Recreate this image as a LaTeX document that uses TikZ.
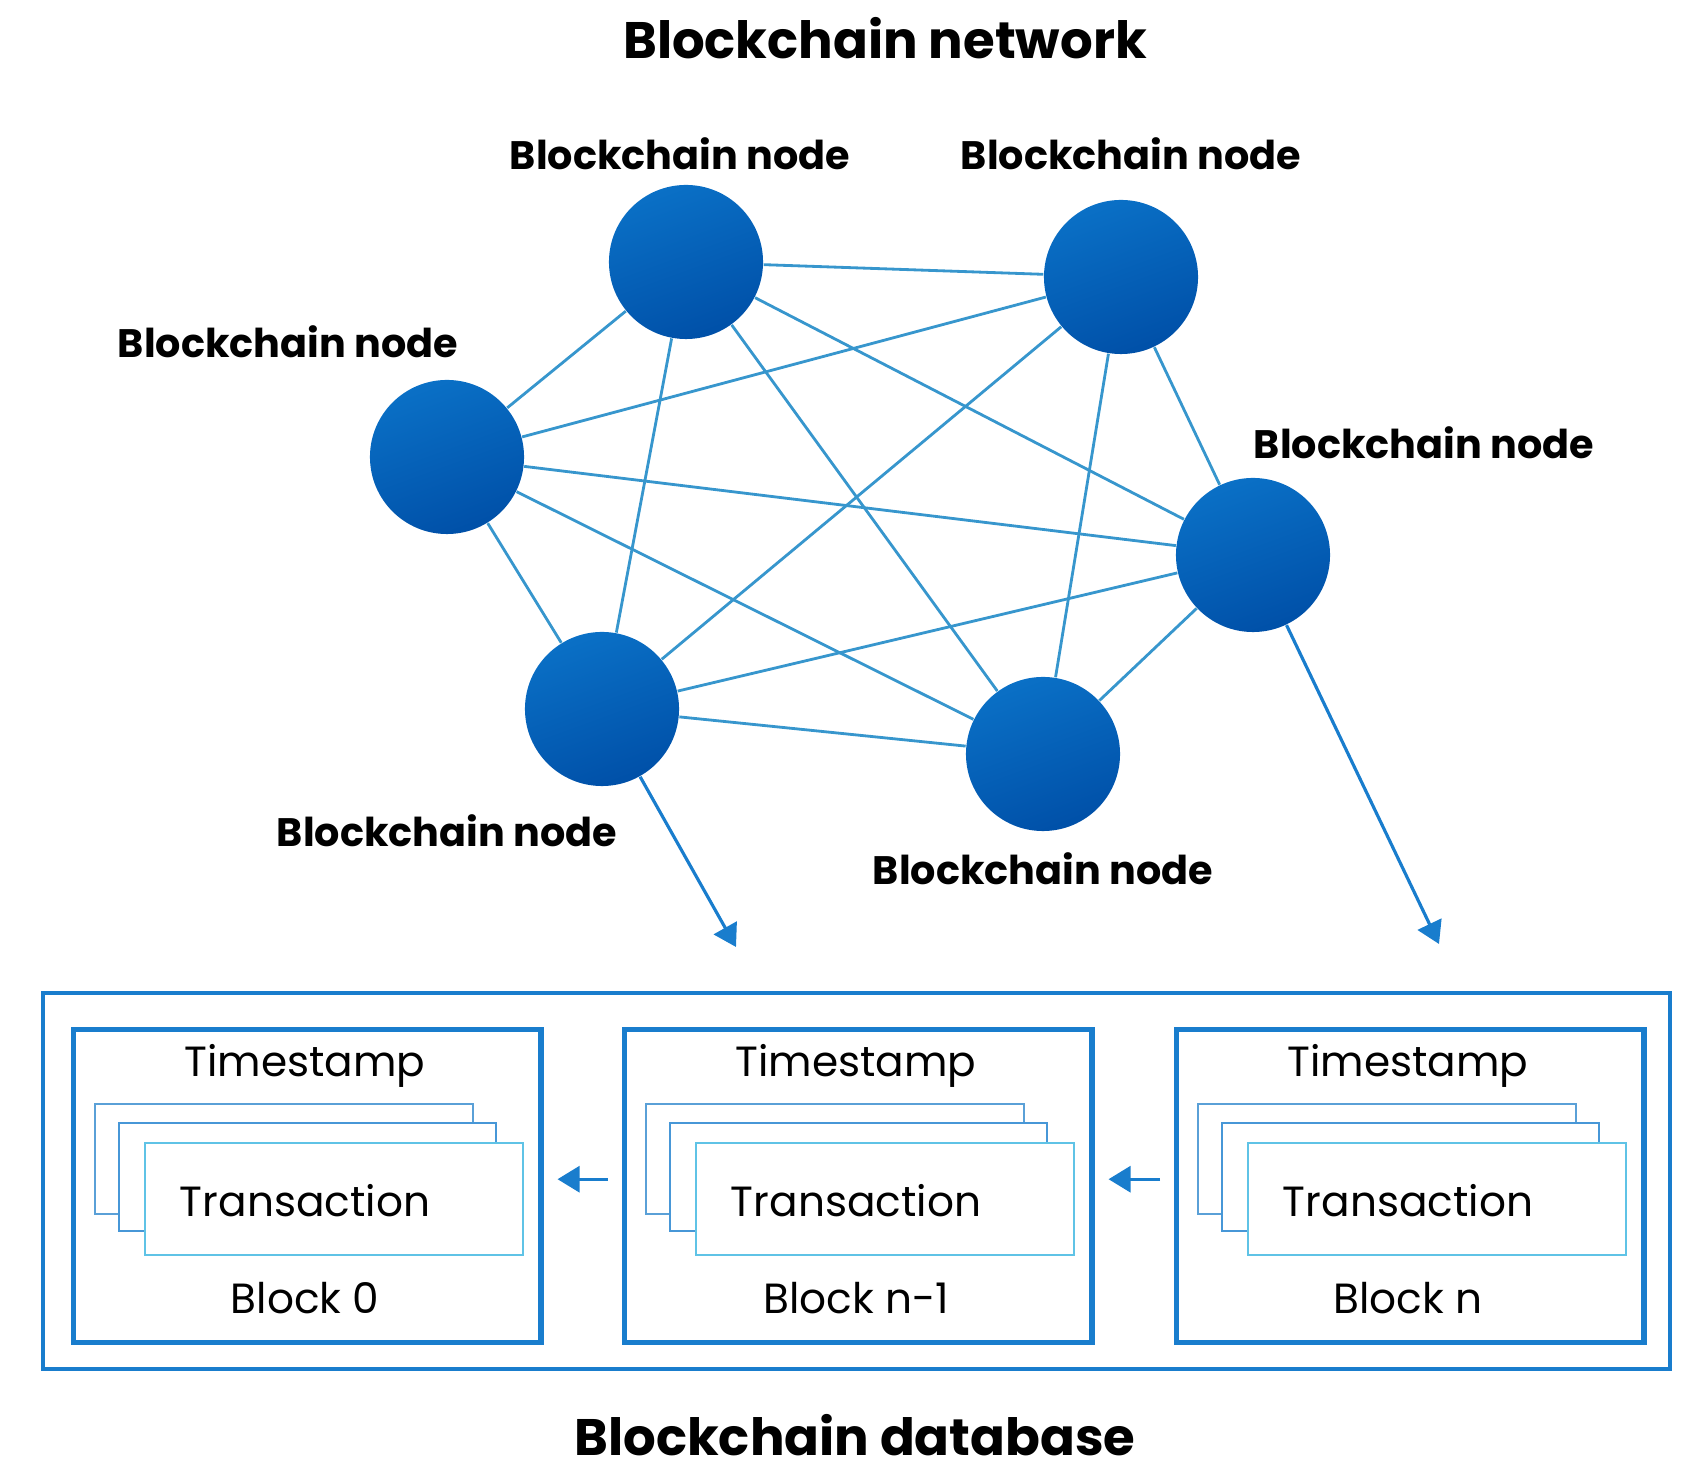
\documentclass[tikz,border=0pt]{standalone}
\usepackage{fontspec}
\setmainfont{Poppins}
\usepackage{xcolor}
\usepackage{tikz}
\usetikzlibrary{positioning,calc,arrows.meta}

\definecolor{netblue}{RGB}{10,112,198}
\definecolor{netdark}{RGB}{0,80,168}
\definecolor{linkblue}{RGB}{55,150,205}
\definecolor{boxblue}{RGB}{25,125,205}
\definecolor{txback}{RGB}{90,160,215}
\definecolor{txfront}{RGB}{95,195,230}

\begin{document}
\begin{tikzpicture}[x=0.01cm, y=-0.01cm,
    bnode/.style={circle, minimum size=1.54cm, inner sep=0pt, top color=netblue, bottom color=netdark, shading angle=20},
    blabel/.style={font=\fontsize{11.3}{13}\selectfont\bfseries},
    btitle/.style={font=\fontsize{14.6}{17}\selectfont\bfseries},
    btext/.style={font=\fontsize{12}{14}\selectfont},
    link/.style={linkblue, line width=0.8pt},
    feed/.style={boxblue, line width=0.9pt, -{Triangle[length=2.2mm,width=2.6mm]}},
    blockbox/.style={draw=boxblue, line width=1.5pt, fill=white, anchor=north west, minimum width=4.67cm, minimum height=3.13cm, inner sep=0pt},
    txbox/.style={line width=0.8pt, fill=white}
]
    \useasboundingbox (0,0) rectangle (1696,1477);

    % Network
    \node[btitle] (net) at (885,38) {Blockchain network};
    \node[bnode] (n1) at (686,262) {};
    \node[bnode] (n2) at (1121,277) {};
    \node[bnode] (n3) at (447,457) {};
    \node[bnode] (n4) at (1253,555) {};
    \node[bnode] (n5) at (602,709) {};
    \node[bnode] (n6) at (1043,754) {};

    % Links between all nodes
    \foreach \a/\b in {n1/n2,n1/n3,n1/n4,n1/n5,n1/n6,n2/n3,n2/n4,n2/n5,n2/n6,n3/n4,n3/n5,n3/n6,n4/n5,n4/n6,n5/n6}
        \draw[link] (\a) -- (\b);

    % Labels
    \node[blabel] (l1) at (680,154) {Blockchain node};
    \node[blabel] (l2) at (1131,154) {Blockchain node};
    \node[blabel] (l3) at (288,342) {Blockchain node};
    \node[blabel] (l4) at (1424,443) {Blockchain node};
    \node[blabel] (l5) at (447,831) {Blockchain node};
    \node[blabel] (l6) at (1043,869) {Blockchain node};

    % Database
    \draw[boxblue, line width=0.9pt] (43,993) rectangle (1670,1369);
    \foreach \x/\name/\lab in {71/b0/Block 0, 622/b1/Block n-1, 1174/bn/Block n}{
        \node[blockbox] (\name) at (\x,1027) {};
        \draw[txbox, draw=txback] (\x+24,1104) rectangle (\x+402,1214);
        \draw[txbox, draw=boxblue!80] (\x+48,1123) rectangle (\x+425,1231);
        \draw[txbox, draw=txfront] (\x+74,1143) rectangle (\x+452,1255);
        \node[btext] (\name-ts) at (\x+234,1066) {Timestamp};
        \node[btext] (\name-tx) at (\x+234,1201) {Transaction};
        \node[btext] (\name-lb) at (\x+234,1298) {\lab};
    }
    \node[btitle] (db) at (855,1435) {Blockchain database};

    % Arrows
    \coordinate (e5) at (736,947);
    \coordinate (e4) at (1439,944);
    \draw[feed] (n5) -- (e5);
    \draw[feed] (n4) -- (e4);
    \draw[feed] ([xshift=-0.14cm,yshift=0.07cm]b1.west) -- ([xshift=0.14cm,yshift=0.07cm]b0.east);
    \draw[feed] ([xshift=-0.14cm,yshift=0.07cm]bn.west) -- ([xshift=0.14cm,yshift=0.07cm]b1.east);
\end{tikzpicture}
\end{document}
